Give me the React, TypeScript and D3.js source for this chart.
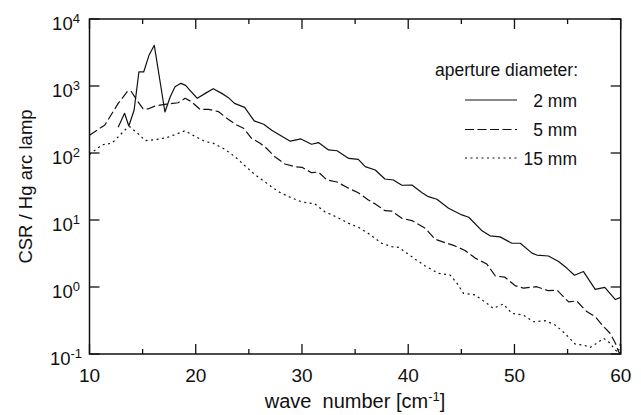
import React from "react";
import * as d3 from "d3";

// ---- data ----
const wn2mm = [12.7, 13.3, 13.7, 14.2, 14.65, 15.1, 15.6, 16.1, 17.1, 17.6, 18.05, 18.6, 19.05, 19.6, 20.15, 20.9, 21.65, 22.45, 23.05, 23.65, 24.6, 25.5, 26.4, 27.15, 28.1, 28.9, 29.9, 30.9, 31.55, 32.5, 33.3, 34.4, 35.3, 35.95, 36.9, 37.8, 38.6, 39.4, 40.35, 41.3, 41.9, 42.7, 43.8, 45.05, 45.7, 46.95, 47.7, 48.65, 49.75, 50.55, 51.65, 52.1, 53.2, 54.15, 54.95, 55.65, 56.5, 57.6, 58.5, 59.5, 60];
const csr2mm = [242, 392, 253, 439, 1620, 1620, 2870, 4050, 409, 692, 977, 1096, 1023, 813, 655, 776, 912, 776, 676, 550, 479, 302, 269, 219, 178, 150, 162, 135, 143, 111, 108, 83, 80.5, 62.5, 55.7, 40.9, 39.5, 33, 33.3, 25.5, 22.3, 20.4, 15, 11.9, 11, 6.9, 5.8, 5.6, 4.5, 4.5, 3.2, 3.0, 2.9, 2.4, 1.9, 1.5, 1.7, 0.92, 0.99, 0.65, 0.7];

const wn5mm = [10, 11.45, 12.7, 13.6, 13.95, 14.45, 15.05, 15.55, 16.15, 17.25, 18.35, 19.0, 19.6, 20.4, 21.2, 22.15, 23.05, 23.85, 24.5, 25.25, 26.05, 26.55, 27.45, 28.4, 29.35, 30.0, 30.9, 31.55, 32.35, 33.3, 34.4, 35.3, 36.25, 36.9, 37.8, 38.45, 39.4, 40.35, 41.6, 42.55, 43.45, 44.4, 45.35, 46.3, 47.4, 48.2, 49.1, 50.05, 50.85, 51.5, 52.1, 53.2, 54.0, 55.1, 55.85, 56.8, 57.6, 58.4, 59.0, 59.5, 59.8, 60];
const csr5mm = [184, 262, 550, 841, 822, 617, 457, 457, 501, 537, 562, 655, 583, 449, 449, 414, 318, 262, 234, 166, 140, 122, 88, 68.5, 62.5, 61.2, 50.8, 52, 39.5, 36.9, 29.7, 25.5, 19.9, 17.3, 13.8, 13.6, 10.6, 9.8, 7.5, 5.15, 4.6, 4.1, 3.5, 2.7, 2.2, 1.46, 1.4, 1.05, 0.96, 0.99, 1.01, 0.88, 0.9, 0.6, 0.62, 0.43, 0.36, 0.255, 0.204, 0.145, 0.108, 0.1];

const wn15mm = [10, 11.15, 12.1, 12.7, 13.5, 13.8, 14.6, 15.25, 16.15, 17.25, 18.2, 19.0, 19.9, 20.9, 21.65, 22.75, 23.7, 24.65, 25.6, 26.7, 27.8, 28.9, 30.0, 31.2, 32.15, 33.3, 34.4, 35.3, 36.25, 37.5, 38.45, 39.1, 40.0, 40.65, 41.6, 42.85, 43.95, 44.6, 45.2, 46.3, 47.4, 48.0, 48.95, 49.75, 50.85, 51.8, 52.9, 53.85, 54.75, 55.7, 56.5, 57.15, 57.75, 58.4, 58.85, 59.5, 59.75, 60];
const csr15mm = [95, 132, 140, 174, 234, 247, 192, 153, 158, 169, 192, 215, 178, 148, 140, 113.5, 88, 64, 47, 35.2, 26.4, 21.8, 18.6, 17.4, 13.3, 11, 8.9, 7.8, 6.3, 4.5, 4.0, 3.9, 3.1, 2.6, 2.06, 1.6, 1.51, 1.13, 0.805, 0.76, 0.57, 0.48, 0.557, 0.405, 0.38, 0.303, 0.314, 0.27, 0.203, 0.141, 0.136, 0.126, 0.145, 0.171, 0.153, 0.115, 0.105, 0.151];

const seriesLabels = ["2 mm", "5 mm", "15 mm"];
const legendTitle = "aperture diameter:";
const xMajorTicks = [10, 20, 30, 40, 50, 60];
const xMinorTicks = [15, 25, 35, 45, 55];
const yTickExponents = [-1, 0, 1, 2, 3, 4];
const yLabel = "CSR / Hg arc lamp";
const xLabel = "wave  number [cm";

const FONT = "'Liberation Sans', Arial, Helvetica, sans-serif";
const INK = "#111";

export default function App() {
  const left = 89.5, right = 620.7, top = 19, bottom = 354;
  const x = d3.scaleLinear().domain([10, 60]).range([left, right]);
  const y = d3.scaleLog().domain([0.1, 10000]).range([bottom, top]);

  const series = [
    { xs: wn2mm, ys: csr2mm, dash: null },
    { xs: wn5mm, ys: csr5mm, dash: "9 3.5" },
    { xs: wn15mm, ys: csr15mm, dash: "2 3.5" },
  ];
  const line = d3
    .line<[number, number]>()
    .x((d) => x(d[0]))
    .y((d) => y(d[1]));

  const majorLen = 10, minorLen = 5;
  const legendX1 = 465, legendX2 = 517, legendTextX = 577;
  const legendRows = [100, 129.5, 158];

  return (
    <svg
      width={641}
      height={415}
      style={{ position: "absolute", left: 0, top: 0, background: "#fff" }}
      fontFamily={FONT}
    >
      <rect x={0} y={0} width={641} height={415} fill="#fff" />
      <defs>
        <clipPath id="clip">
          <rect x={left} y={top} width={right - left} height={bottom - top} />
        </clipPath>
      </defs>
      {/* curves */}
      <g clipPath="url(#clip)">
        {series.map((s, i) => (
          <path
            key={i}
            d={line(s.xs.map((v, j) => [v, s.ys[j]] as [number, number])) || ""}
            fill="none"
            stroke={INK}
            strokeWidth={1.2}
            strokeDasharray={s.dash || undefined}
            strokeLinejoin="round"
          />
        ))}
      </g>

      {/* frame */}
      <rect x={left} y={top} width={right - left} height={bottom - top} fill="none" stroke={INK} strokeWidth={1.5} />

      {/* x ticks */}
      {xMajorTicks.map((t) => (
        <g key={"xM" + t}>
          <line x1={x(t)} x2={x(t)} y1={bottom} y2={bottom - majorLen} stroke={INK} strokeWidth={1.3} />
          <line x1={x(t)} x2={x(t)} y1={top} y2={top + majorLen} stroke={INK} strokeWidth={1.3} />
          <text x={x(t)} y={382} textAnchor="middle" fontSize={19} fill={INK}>
            {t}
          </text>
        </g>
      ))}
      {xMinorTicks.map((t) => (
        <g key={"xm" + t}>
          <line x1={x(t)} x2={x(t)} y1={bottom} y2={bottom - minorLen} stroke={INK} strokeWidth={1.3} />
          <line x1={x(t)} x2={x(t)} y1={top} y2={top + minorLen} stroke={INK} strokeWidth={1.3} />
        </g>
      ))}

      {/* y ticks */}
      {yTickExponents.map((e) => {
        const v = Math.pow(10, e);
        const yy = y(v);
        return (
          <g key={"y" + e}>
            <line x1={left} x2={left + majorLen} y1={yy} y2={yy} stroke={INK} strokeWidth={1.3} />
            <line x1={right} x2={right - majorLen} y1={yy} y2={yy} stroke={INK} strokeWidth={1.3} />
            <text x={66} y={yy + 10.5} textAnchor="middle" fontSize={18.5} fill={INK}>
              <tspan>10</tspan>
              <tspan dy={-7} fontSize={13}>
                {e < 0 ? "-" + Math.abs(e) : String(e)}
              </tspan>
            </text>
          </g>
        );
      })}

      {/* axis titles */}
      <text x={355} y={408} textAnchor="middle" fontSize={20} fill={INK} style={{ whiteSpace: "pre" }}>
        <tspan>{xLabel}</tspan>
        <tspan dy={-7.5} fontSize={13}>-1</tspan>
        <tspan dy={7.5}>]</tspan>
      </text>
      <text
        transform={`translate(32, ${(top + bottom) / 2}) rotate(-90)`}
        textAnchor="middle"
        fontSize={18.5}
        fill={INK}
      >
        {yLabel}
      </text>

      {/* legend */}
      <text x={435} y={75.5} fontSize={17.5} fill={INK}>
        {legendTitle}
      </text>
      {seriesLabels.map((lab, i) => (
        <g key={lab}>
          <line
            x1={legendX1}
            x2={legendX2}
            y1={legendRows[i]}
            y2={legendRows[i]}
            stroke={INK}
            strokeWidth={1.2}
            strokeDasharray={series[i].dash || undefined}
          />
          <text x={legendTextX} y={legendRows[i] + 6.5} textAnchor="end" fontSize={17.5} fill={INK}>
            {lab}
          </text>
        </g>
      ))}
    </svg>
  );
}
